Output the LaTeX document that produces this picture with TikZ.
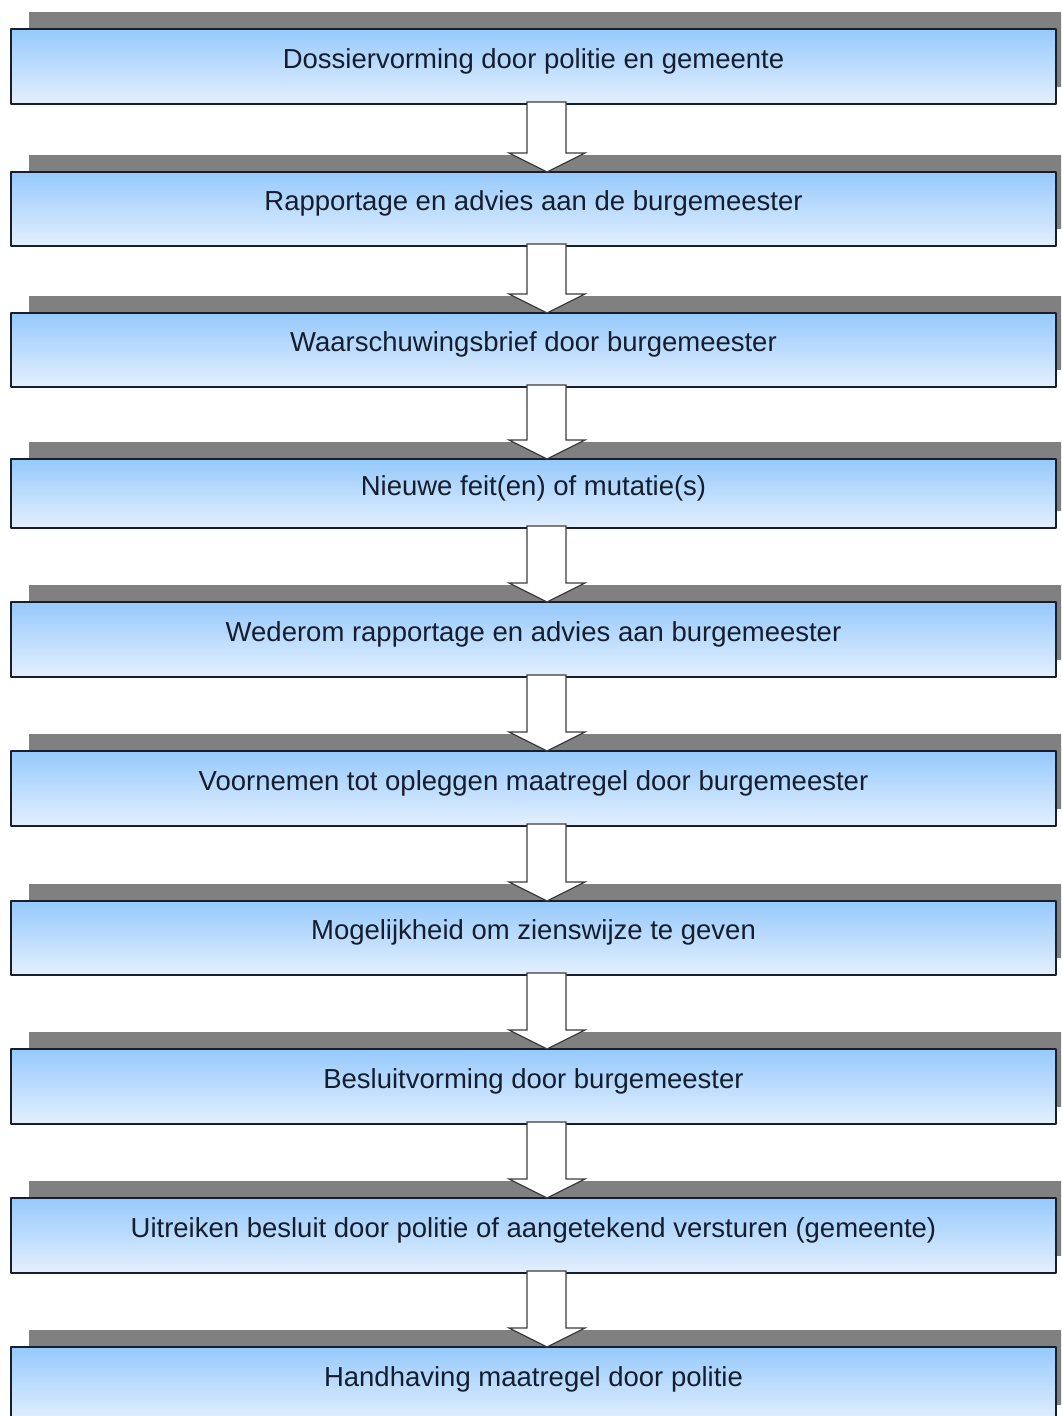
\documentclass[tikz,border=0pt]{standalone}
\usepackage{fontspec}
\setmainfont{Liberation Sans}
\usepackage{tikz}
\usetikzlibrary{calc,shadows}
\definecolor{boxtop}{RGB}{150,201,252}
\definecolor{boxbottom}{RGB}{228,240,254}
\definecolor{boxline}{RGB}{25,30,45}
\definecolor{shadowgray}{RGB}{128,128,128}
\definecolor{labeltext}{RGB}{20,30,45}
\definecolor{arrowline}{RGB}{60,60,60}

\begin{document}
\begin{tikzpicture}[line cap=round,line join=round,x=1pt,y=1pt,
    stepbox/.style={draw=boxline, line width=2pt, top color=boxtop, bottom color=boxbottom,
        minimum width=1045pt, minimum height=75pt, inner sep=0pt, outer sep=0pt,
        text=labeltext, font=\fontsize{27.5}{30}\selectfont, text height=20pt, text depth=17pt,
        general shadow={fill=shadowgray, shadow xshift=18pt, shadow yshift=17pt}},
    blockarrow/.style={draw=arrowline, line width=1.2pt, fill=white, line join=miter,
        to path={($(\tikztostart.south)+(-6.5,2)$) -- ($(\tikztotarget.north)+(-6.5,19)$)
            -- ($(\tikztotarget.north)+(-24.5,19)$) -- ($(\tikztotarget.north)+(13.5,0)$)
            -- ($(\tikztotarget.north)+(51.5,19)$) -- ($(\tikztotarget.north)+(32.5,19)$)
            -- ($(\tikztostart.south)+(32.5,2)$) -- cycle}}]
                \useasboundingbox (0,0) rectangle (1061,-1416);
                \clip (0,0) rectangle (1061,-1416);
                \node[stepbox] (b1) at (533.5,-66.5) {Dossiervorming door politie en gemeente};
                \node[stepbox, minimum height=74pt] (b2) at (533.5,-209) {Rapportage en advies aan de burgemeester};
                \node[stepbox, minimum height=74pt] (b3) at (533.5,-350) {Waarschuwingsbrief door burgemeester};
                \node[stepbox, minimum height=69pt] (b4) at (533.5,-493.5) {Nieuwe feit(en) of mutatie(s)};
                \node[stepbox] (b5) at (533.5,-639.5) {Wederom rapportage en advies aan burgemeester};
                \node[stepbox] (b6) at (533.5,-788.5) {Voornemen tot opleggen maatregel door burgemeester};
                \node[stepbox, minimum height=74pt] (b7) at (533.5,-938) {Mogelijkheid om zienswijze te geven};
                \node[stepbox] (b8) at (533.5,-1086.5) {Besluitvorming door burgemeester};
                \node[stepbox] (b9) at (533.5,-1235.5) {Uitreiken besluit door politie of aangetekend versturen (gemeente)};
                \node[stepbox] (b10) at (533.5,-1384.5) {Handhaving maatregel door politie};
                % arrows between the steps
                \draw[blockarrow] (b1) to (b2);
                \draw[blockarrow] (b2) to (b3);
                \draw[blockarrow] (b3) to (b4);
                \draw[blockarrow] (b4) to (b5);
                \draw[blockarrow] (b5) to (b6);
                \draw[blockarrow] (b6) to (b7);
                \draw[blockarrow] (b7) to (b8);
                \draw[blockarrow] (b8) to (b9);
                \draw[blockarrow] (b9) to (b10);
\end{tikzpicture}
\end{document}
